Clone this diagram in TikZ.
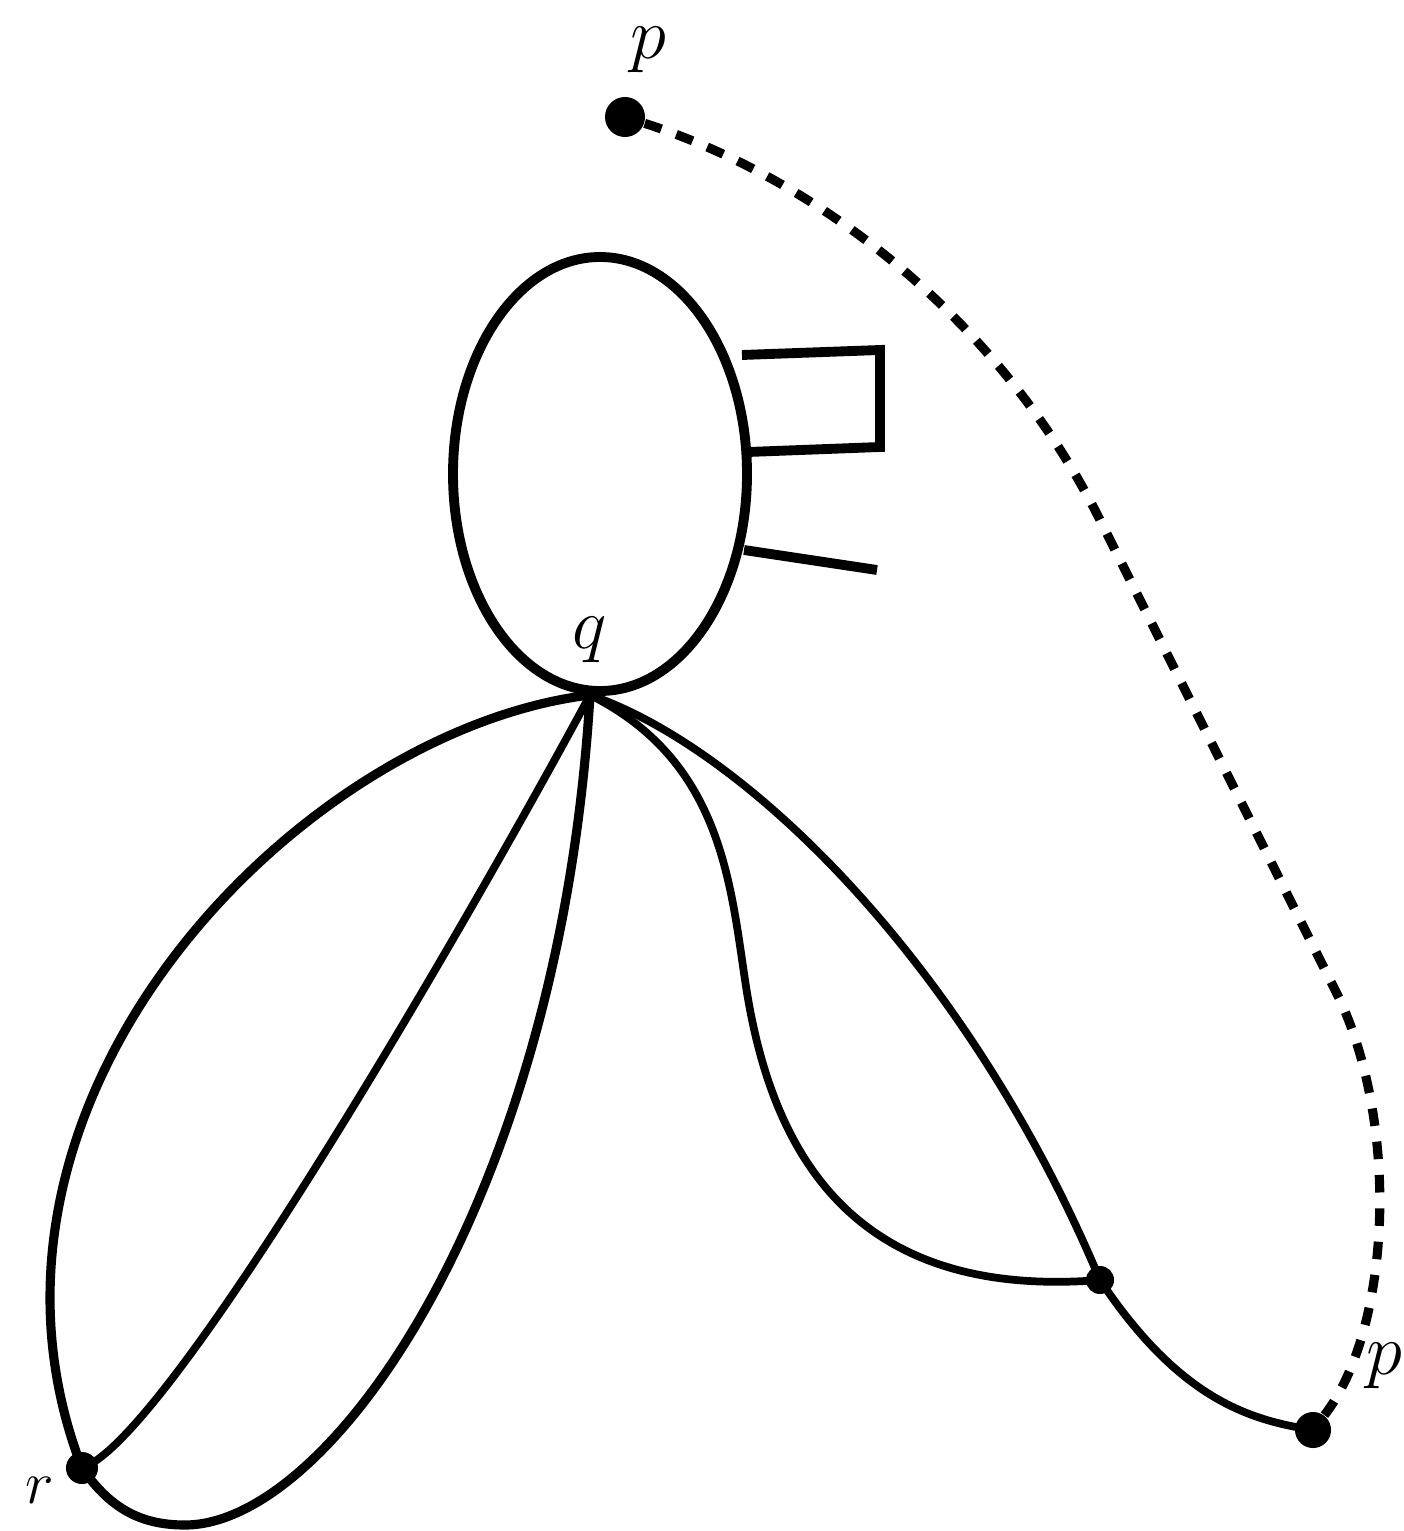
\documentclass[tikz,border=0pt]{standalone}
\usepackage{tikz}

\begin{document}
\begin{tikzpicture}[
    x=0.01cm, y=-0.01cm,
    curve/.style={draw=black, line width=2.2pt, line join=round, line cap=round},
    body/.style={draw=black, line width=2.8pt},
    track/.style={draw=black, line width=2.6pt, dash pattern=on 5pt off 4.5pt},
    bigdot/.style={circle, fill=black, inner sep=0pt, minimum size=0.4cm},
    smalldot/.style={circle, fill=black, inner sep=0pt, minimum size=0.3cm},
    ptlabel/.style={font=\fontsize{20}{24}\selectfont, inner sep=1pt},
  ]
  \useasboundingbox (0,0) rectangle (1404,1531);

  % Points of the figure.
  \node[bigdot] (ptop) at (625,117) {};
  \node[bigdot, minimum size=0.36cm] (pbot) at (1313,1430) {};
  \node[smalldot, minimum size=0.32cm] (r) at (82,1468) {};
  \node[smalldot, minimum size=0.28cm] (s) at (1100,1280) {};
  \coordinate (q) at (590,695);

  \node[ptlabel] (ptoplab) at (648,50) {$p$};
  \node[ptlabel] (pbotlab) at (1384,1366) {$p$};
  \node[ptlabel] (qlab) at (590,640) {$q$};
  \node[ptlabel, font=\fontsize{17}{20}\selectfont] (rlab) at (40,1490) {$r$};

  % Oval body with the flag and the stick.
  \draw[body] (600,474) ellipse (147 and 217);
  \draw[body] (742,355) -- (880,350) -- (880,447) -- (748,452);
  \draw[body] (744,550) -- (877,570);

  % Dashed track from the upper p to the lower p.
  \draw[track] (ptop) .. controls (820,180) and (1000,320) .. (1100,520)
    .. controls (1200,720) and (1280,880) .. (1340,1000)
    .. controls (1400,1130) and (1390,1330) .. (pbot);

  % Left loops through r.
  \draw[curve, line width=2.6pt] (q) .. controls (300,730) and (-60,1100) .. (r.center);
  \draw[curve] (r.center) .. controls (170,1440) and (480,900) .. (q);
  \draw[curve, line width=2.6pt] (r.center) .. controls (110,1508) and (140,1525) .. (185,1525)
    .. controls (330,1525) and (560,1200) .. (q);

  % Right loops through the small point.
  \draw[curve] (q) .. controls (720,760) and (730,880) .. (745,980)
    .. controls (770,1150) and (850,1300) .. (s.center);
  \draw[curve] (q) .. controls (750,750) and (970,970) .. (s.center)
    .. controls (1180,1400) and (1250,1420) .. (pbot.center);
\end{tikzpicture}
\end{document}
